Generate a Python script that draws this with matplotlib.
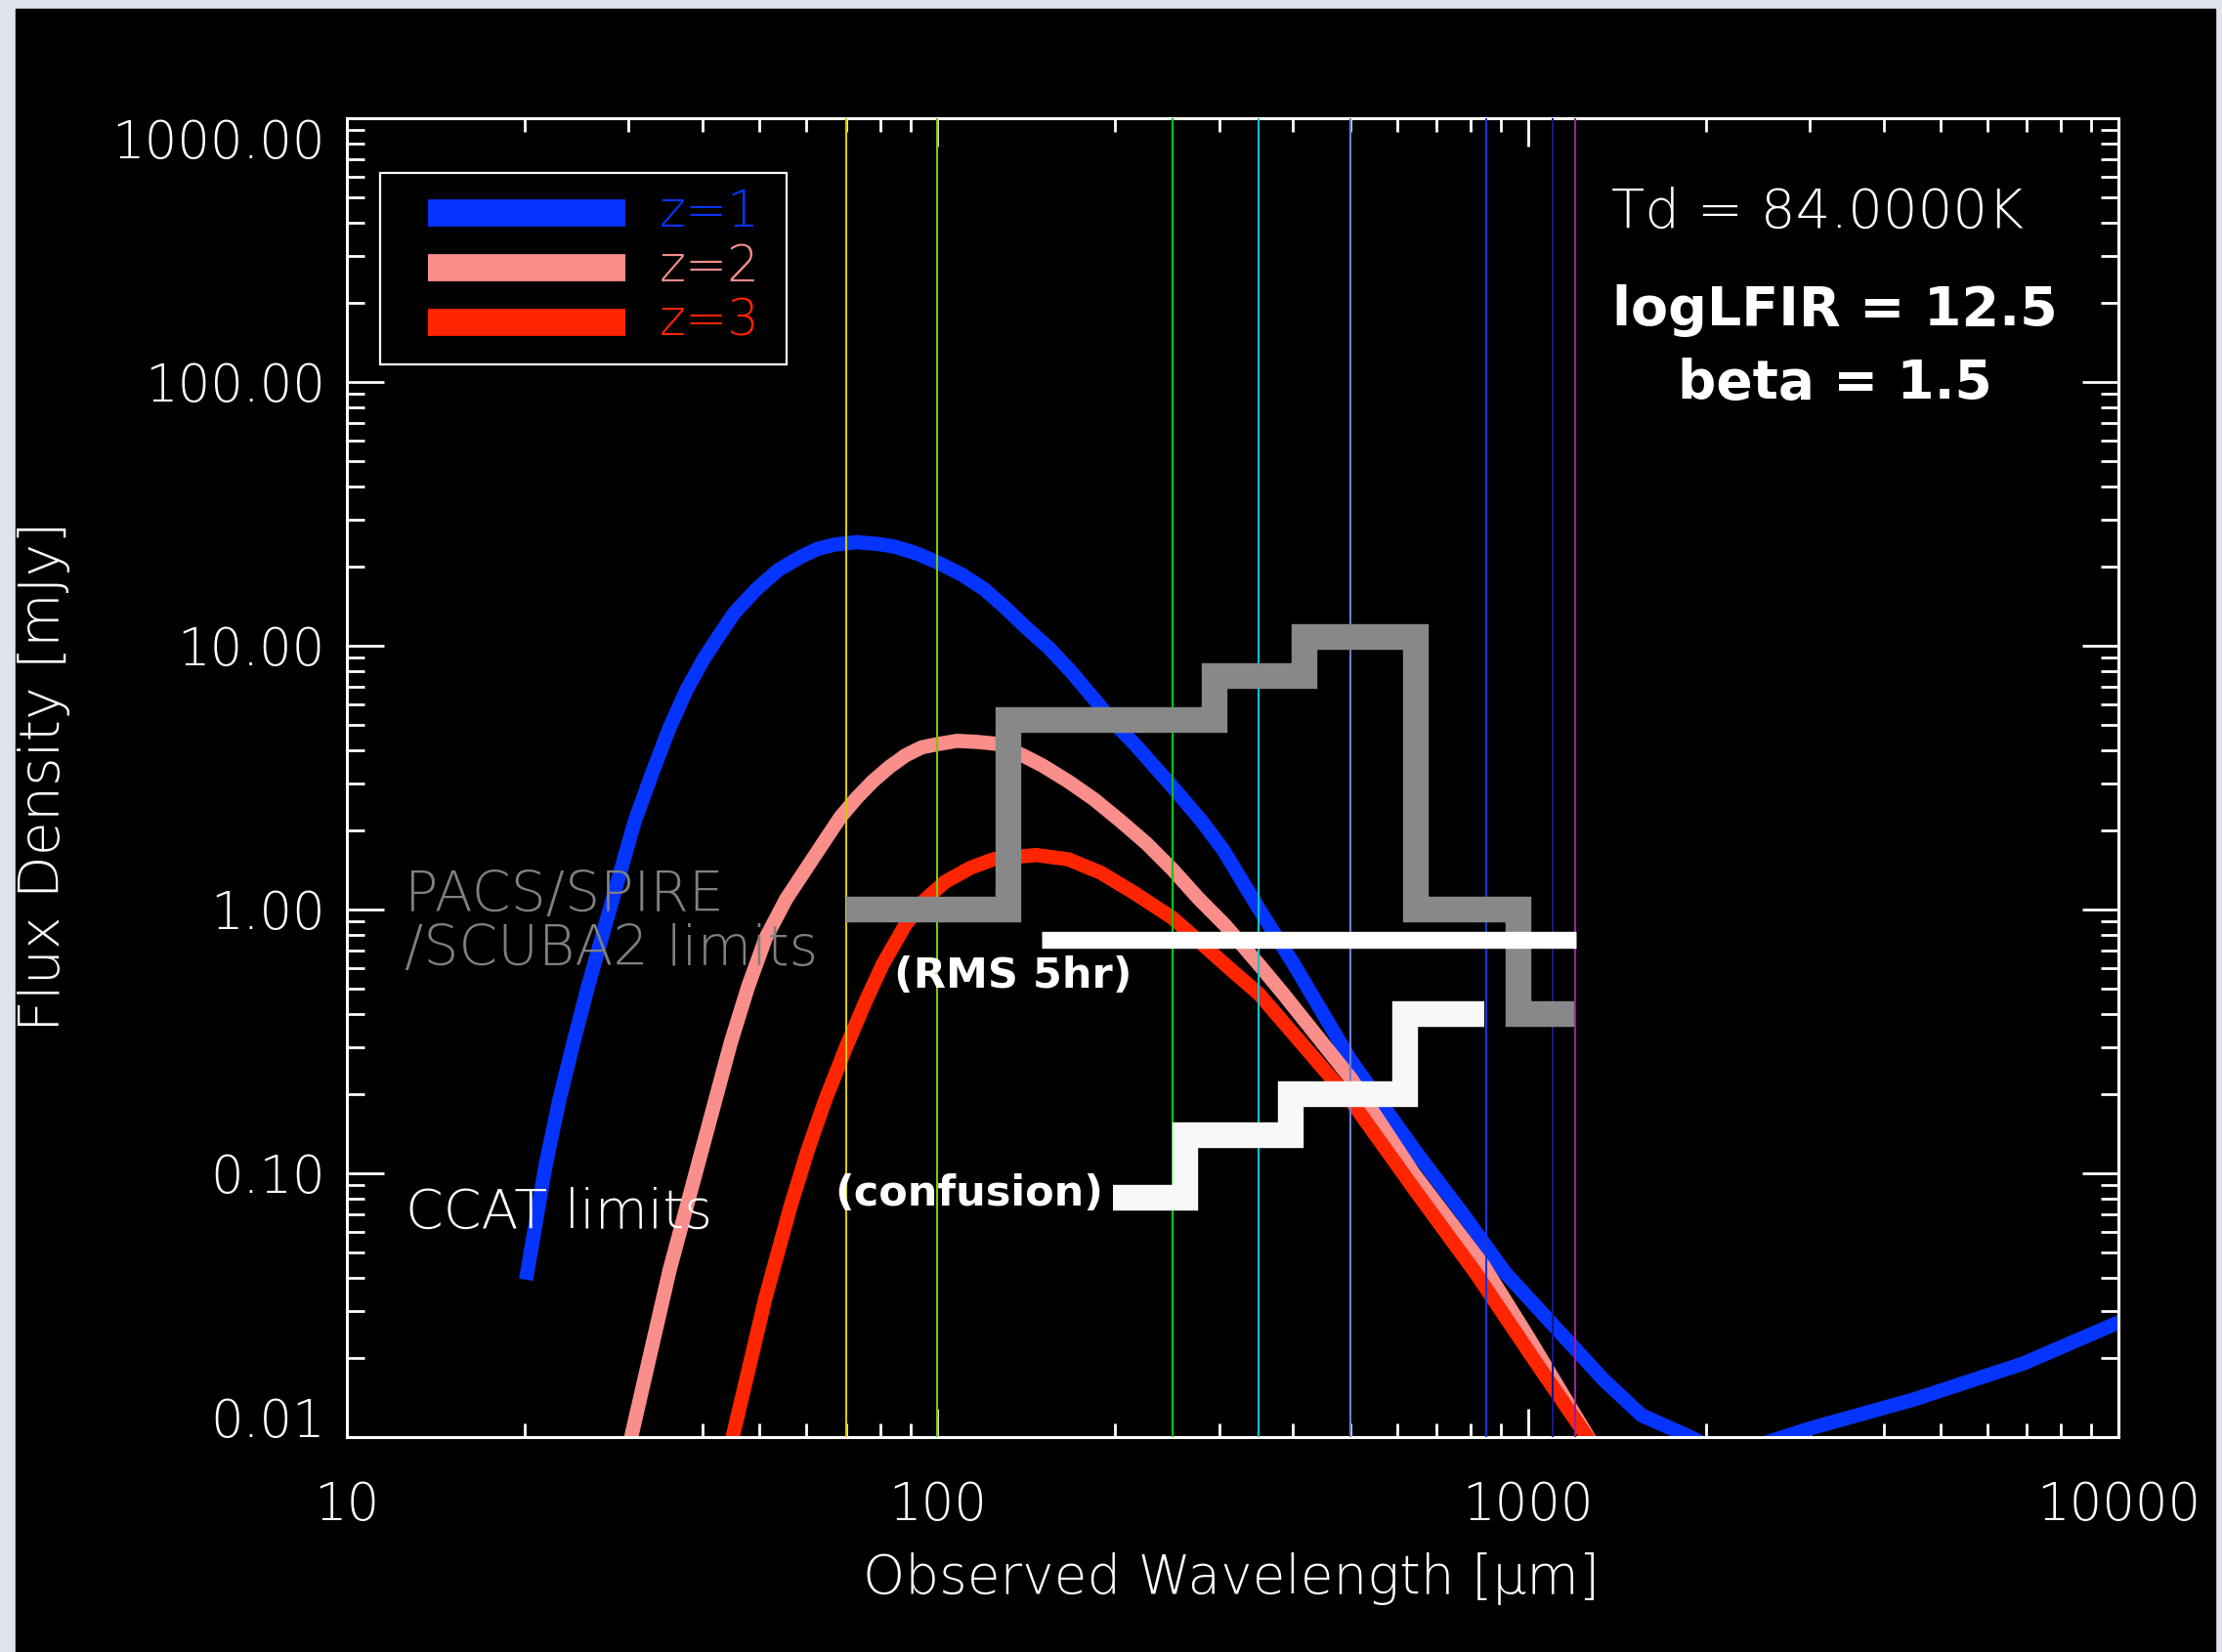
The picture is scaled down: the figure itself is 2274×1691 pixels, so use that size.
import matplotlib
matplotlib.use('Agg')
import matplotlib.pyplot as plt
import matplotlib.patches as mpatches
from matplotlib.ticker import LogLocator, NullFormatter

# ---- data ----
lam_z1 = [20.2, 21.7, 22.9, 24.2, 25.6, 28.2, 30.7, 32.9, 35.2, 37.6, 40.3, 43.1, 45.4, 49.4,
          53.8, 58.6, 62.7, 67.1, 73.1, 79.6, 85.1, 92.7, 101, 110, 120, 130, 142, 154.5, 168,
          183, 199, 217, 249, 280, 305, 350, 405, 500, 647, 780, 915, 1087, 1343, 1557, 1886,
          2000, 2200, 2450, 2705, 3012, 4511, 6897, 10000]
flux_z1 = [0.042, 0.107, 0.19, 0.314, 0.51, 1.10, 2.15, 3.3, 4.9, 6.8, 9.0, 11.3, 13.4, 16.4,
           19.4, 21.7, 23.3, 24.2, 24.7, 24.3, 23.7, 22.3, 20.5, 18.6, 16.4, 14.0, 11.6, 9.8, 8.03,
           6.4, 5.1, 4.18, 2.95, 2.17, 1.68, 1.01, 0.60, 0.27, 0.12, 0.069, 0.042, 0.0276, 0.0165,
           0.0121, 0.0100, 0.0093, 0.0088, 0.0093, 0.0100, 0.0108, 0.0139, 0.019, 0.0272]

lam_z2 = [30.3, 35.2, 44.7, 47.8, 51.2, 55.5, 64.5, 68.5, 73.0, 77.7, 82.9, 88.3, 94.1, 100.2,
          108, 116.7, 126, 139.5, 150.5, 166.6, 184.5, 204, 226, 250, 277, 306.6, 350, 385, 502,
          640, 839, 1000, 1265]
flux_z2 = [0.01, 0.043, 0.314, 0.51, 0.78, 1.10, 1.83, 2.24, 2.65, 3.06, 3.47, 3.84, 4.12, 4.24,
           4.36, 4.32, 4.25, 3.84, 3.52, 3.06, 2.61, 2.17, 1.78, 1.42, 1.10, 0.875, 0.62, 0.48,
           0.228, 0.10, 0.045, 0.024, 0.01]

lam_z3 = [45.0, 51.2, 56.3, 60.3, 64.5, 70, 75.8, 80.8, 88.3, 95.3, 102.9, 113.8, 124.4, 146.7,
          166.6, 189, 215, 250, 277, 314.5, 350, 502, 647, 815, 1019, 1260]
flux_z3 = [0.01, 0.034, 0.074, 0.122, 0.188, 0.30, 0.455, 0.62, 0.876, 1.09, 1.27, 1.44, 1.55,
           1.61, 1.55, 1.38, 1.16, 0.93, 0.76, 0.59, 0.48, 0.188, 0.085, 0.042, 0.020, 0.01]

series_labels = ['z=1', 'z=2', 'z=3']
series_colors = ['#0534ff', '#fa8e8a', '#ff2500']

# PACS/SPIRE/SCUBA2 limits (step edges and levels)
pacs_edges = [70, 132, 295, 418, 647, 964, 1197]
pacs_flux = [1.0, 5.25, 7.7, 10.8, 1.0, 0.40]
# CCAT confusion limits
ccat_edges = [198, 263, 396, 620, 845]
ccat_flux = [0.081, 0.14, 0.20, 0.40]
# CCAT RMS 5hr
rms_lam = [150, 1208]
rms_flux = [0.77, 0.77]

# instrument bands
band_lam = [70, 100, 250, 350, 500, 850, 1100, 1200]
band_colors = ['#d6c800', '#7cc800', '#00c800', '#00c8c8', '#6e7ed0', '#1836e0', '#16168c', '#9a209a']

xticks = [10, 100, 1000, 10000]
xticklabels = ['10', '100', '1000', '10000']
yticks = [0.01, 0.1, 1, 10, 100, 1000]
yticklabels = ['0.01', '0.10', '1.00', '10.00', '100.00', '1000.00']

# ---- style ----
plt.rcParams['font.family'] = ['DejaVu Sans']
plt.rcParams['font.weight'] = 'light'
plt.rcParams['axes.labelweight'] = 'light'
plt.rcParams['text.color'] = 'white'

W, H = 2274, 1691
fig = plt.figure(figsize=(W / 100, H / 100), dpi=100, facecolor='#e0e4ea')
fig.patches.append(mpatches.Rectangle((16 / W, 0), (2267 - 16) / W, (H - 9) / H,
                                      transform=fig.transFigure, color='black', zorder=-10))

AX_L, AX_T, AX_R, AX_B = 355, 121, 2168, 1471
ax = fig.add_axes([AX_L / W, (H - AX_B) / H, (AX_R - AX_L) / W, (AX_B - AX_T) / H])
ax.set_facecolor('black')


def afrac(x, y):
    return (x - AX_L) / (AX_R - AX_L), (AX_B - y) / (AX_B - AX_T)


# curves
for lam, flux, c in zip([lam_z1, lam_z2, lam_z3], [flux_z1, flux_z2, flux_z3], series_colors):
    ax.plot(lam, flux, color=c, lw=10.5, solid_joinstyle='round', zorder=2)

# bands
for lam, c in zip(band_lam, band_colors):
    ax.axvline(lam, color=c, lw=1.5, zorder=3)

# limits
ax.stairs(pacs_flux, pacs_edges, baseline=None, color='#888888', lw=19,
          joinstyle='miter', capstyle='butt', zorder=4)
ax.stairs(ccat_flux, ccat_edges, baseline=None, color='#f8f8f8', lw=19,
          joinstyle='miter', capstyle='butt', zorder=4)
ax.plot(rms_lam, rms_flux, color='white', lw=12.5, solid_capstyle='butt', zorder=4)

ax.set_xscale('log')
ax.set_yscale('log')
ax.set_xlim(10, 10000)
ax.set_ylim(0.01, 1000)

ax.set_xticks(xticks, xticklabels)
ax.set_yticks(yticks, yticklabels)
for a in (ax.xaxis, ax.yaxis):
    a.set_minor_locator(LogLocator(base=10, subs=range(2, 10), numticks=20))
    a.set_minor_formatter(NullFormatter())

ax.tick_params(axis='both', which='both', direction='in', colors='white', width=2,
               top=True, bottom=True, left=True, right=True, labelsize=38)
ax.tick_params(axis='y', which='major', length=27, pad=16)
ax.tick_params(axis='y', which='minor', length=13)
ax.tick_params(axis='x', which='major', length=21, pad=32)
ax.tick_params(axis='x', which='minor', length=10)
for s in ax.spines.values():
    s.set_color('white')
    s.set_linewidth(2.2)

ylabs = ax.get_yticklabels()
ylabs[0].set_va('baseline')
ylabs[-1].set_va('top')

ax.set_xlabel('Observed Wavelength [μm]', fontsize=39.5, color='white', va='center',
              fontweight='light')
ax.xaxis.set_label_coords(*afrac(1260, 1616))
ax.set_ylabel('Flux Density [mJy]', fontsize=41, color='white', va='center',
              fontweight='light')
ax.yaxis.set_label_coords(*afrac(45, 795))

# legend (IDL style box)
lx0, ly0 = afrac(389, 373)
lx1, ly1 = afrac(805, 177)
ax.add_patch(mpatches.Rectangle((lx0, ly0), lx1 - lx0, ly1 - ly0, transform=ax.transAxes,
                                facecolor='black', edgecolor='white', lw=1.6, zorder=6))
for i, (lab, c) in enumerate(zip(series_labels, series_colors)):
    ya = 217.5 + 56 * i
    hx0, hy = afrac(438, ya)
    hx1, _ = afrac(640, ya)
    ax.plot([hx0, hx1], [hy, hy], transform=ax.transAxes, color=c, lw=20,
            solid_capstyle='butt', zorder=7, clip_on=False)
    tx, _ = afrac(675, ya)
    ax.text(tx, hy, lab, transform=ax.transAxes, color=c, fontsize=37,
            va='center', ha='left', zorder=7)

# annotations
ax.text(*afrac(1649, 233), 'Td = 84.0000K', transform=ax.transAxes, fontsize=40.5,
        ha='left', va='baseline', zorder=5)
ax.text(*afrac(414, 890), 'PACS/SPIRE\n/SCUBA2 limits', transform=ax.transAxes, fontsize=41,
        color='#808080', ha='left', va='top', linespacing=1.0, zorder=5)
ax.text(*afrac(415, 1257), 'CCAT limits', transform=ax.transAxes, fontsize=40,
        ha='left', va='baseline', zorder=5)

ax.text(*afrac(1878, 333), 'logLFIR = 12.5', transform=ax.transAxes, fontsize=40,
        fontweight='bold', ha='center', va='baseline', zorder=5)
ax.text(*afrac(1878, 408), 'beta = 1.5', transform=ax.transAxes, fontsize=39.5,
        fontweight='bold', ha='center', va='baseline', zorder=5)
ax.text(*afrac(1037, 1011), '(RMS 5hr)', transform=ax.transAxes, fontsize=31,
        fontweight='bold', ha='center', va='baseline', zorder=5)
ax.text(*afrac(992, 1234), '(confusion)', transform=ax.transAxes, fontsize=31,
        fontweight='bold', ha='center', va='baseline', zorder=5)

fig.savefig('out.png', dpi=100)
